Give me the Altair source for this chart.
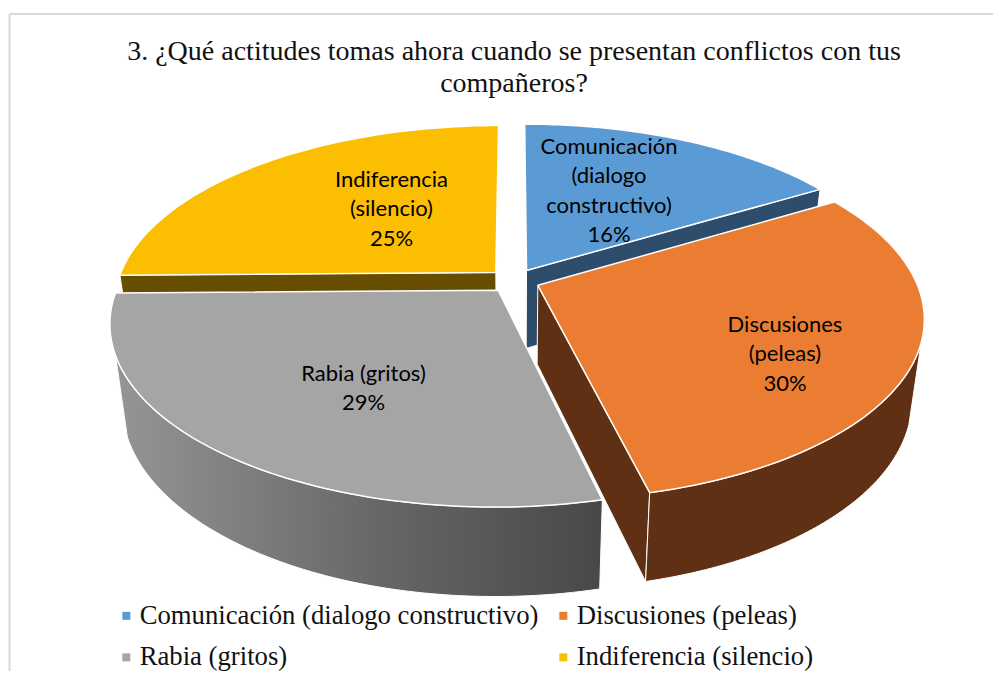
import math
import altair as alt
import pandas as pd

# ---- chart content ----
categorias = ["Comunicación (dialogo constructivo)", "Discusiones (peleas)", "Rabia (gritos)", "Indiferencia (silencio)"]
porcentajes = [16.4, 29.85, 28.5, 25.25]
colores = ["#5b9bd5", "#eb7d32", "#a5a5a5", "#fcbe00"]
titulo = ["3. ¿Qué actitudes tomas ahora cuando se presentan conflictos con tus", "compañeros?"]
etiquetas = [
    ["Comunicación", "(dialogo", "constructivo)", "16%"],
    ["Discusiones", "(peleas)", "30%"],
    ["Rabia (gritos)", "29%"],
    ["Indiferencia", "(silencio)", "25%"],
]

# ---- layout of the tilted, exploded pie ----
VX, VY, RX, RY, K = 514.0, 280.7, 378.0, 175.2, 0.175
EXPLODE, FLOOR_SCALE, DEPTH = 0.068, 0.97, 78.5
label_anchor = [(609, 147), (785, 325), (363.5, 374), (391.5, 180)]
LINE_STEP = 29.4
wall_colors = {
    0: "#2e4c6b",
    1: "#5f3013",
    3: "#664d00",
}
ORANGE_WALL_FROM, GRAY_WALL_TO = 108.0, 250.0


def project(wx, wy, floor=False):
    d = 1 + K * wy
    f = FLOOR_SCALE if floor else 1.0
    return VX + f * RX * wx / d, VY - f * RY * wy / d + (DEPTH / d if floor else 0.0)


def arc(start, end, ox, oy, floor=False, n=70):
    pts = []
    for i in range(n + 1):
        t = math.radians(start + (end - start) * i / n)
        pts.append(project(ox + math.sin(t), oy + math.cos(t), floor))
    return pts


def frame(points, name, cat=None):
    pts = points + points[:1]
    return pd.DataFrame({
        "x": [p[0] for p in pts], "y": [p[1] for p in pts],
        "ord": range(len(pts)), "poly": name, "categoria": cat,
    })


x_enc = alt.X("x:Q", axis=None, scale=alt.Scale(domain=[8, 993], nice=False, zero=False))
y_enc = alt.Y("y:Q", axis=None, scale=alt.Scale(domain=[671, 8], nice=False, zero=False))

tops, walls = [], []
acum = 0.0
for i, p in enumerate(porcentajes):
    a0, a1 = acum * 3.6, (acum + p) * 3.6
    acum += p
    mid = math.radians((a0 + a1) / 2)
    ox, oy = EXPLODE * math.sin(mid), EXPLODE * math.cos(mid)
    apex, apex_floor = project(ox, oy), project(ox, oy, True)
    rim, rim_floor = arc(a0, a1, ox, oy), arc(a0, a1, ox, oy, True)
    tops.append(frame([apex] + rim, f"top{i}", categorias[i]))
    if i == 0:  # cut face towards the viewer, at the end of the slice
        walls.append((i, frame([apex, rim[-1], rim_floor[-1], apex_floor], f"cut{i}")))
    if i == 3:
        walls.append((i, frame([apex, rim[0], rim_floor[0], apex_floor], f"cut{i}")))
    if i == 1:
        walls.append((i, frame([apex, rim[-1], rim_floor[-1], apex_floor], f"cut{i}")))
        walls.append((i, frame(arc(ORANGE_WALL_FROM, a1, ox, oy) + arc(ORANGE_WALL_FROM, a1, ox, oy, True)[::-1], f"rim{i}")))
    if i == 2:
        walls.append((i, frame(arc(a0, GRAY_WALL_TO, ox, oy) + arc(a0, GRAY_WALL_TO, ox, oy, True)[::-1], f"rim{i}")))

gray_gradient = alt.LinearGradient(
    gradient="linear", x1=1, x2=0, y1=0, y2=0,
    stops=[alt.GradientStop(offset=0, color="#484848"),
           alt.GradientStop(offset=0.45, color="#666666"),
           alt.GradientStop(offset=1, color="#959595")],
)

layers = []
# frame of the picture
borde = pd.DataFrame({"x": [9.5], "y": [14], "x2": [993], "y2": [671]})
layers.append(alt.Chart(borde).mark_rule(color="#d9d9d9", strokeWidth=2).encode(x=x_enc, x2="x2:Q", y=y_enc))
layers.append(alt.Chart(borde).mark_rule(color="#d9d9d9", strokeWidth=2).encode(x=x_enc, y=y_enc, y2="y2:Q"))

for i, df in walls:
    fill = gray_gradient if i == 2 else wall_colors[i]
    layers.append(alt.Chart(df).mark_line(fill=fill, stroke="#ffffff", strokeWidth=1).encode(
        x=x_enc, y=y_enc, order=alt.Order("ord:Q")))

layers.append(alt.Chart(pd.concat(tops, ignore_index=True)).mark_line(stroke="#ffffff", strokeWidth=1.5).encode(
    x=x_enc, y=y_enc, order=alt.Order("ord:Q"), detail="poly:N",
    fill=alt.Fill("categoria:N", sort=categorias,
                  scale=alt.Scale(domain=categorias, range=colores),
                  legend=alt.Legend(
                      title=None, orient="none", legendX=105, legendY=594, columns=2, direction="horizontal",
                      symbolType="square", symbolSize=64, symbolStrokeWidth=0,
                      labelFont="Liberation Serif", labelFontSize=26.7, labelColor="#111111",
                      labelOffset=0, rowPadding=14, columnPadding=11, labelLimit=500,
                      symbolOpacity=1))))

rows = []
for lines, (cx, cy) in zip(etiquetas, label_anchor):
    for j, line in enumerate(lines):
        rows.append({"x": cx, "y": cy + j * LINE_STEP, "t": line})
layers.append(alt.Chart(pd.DataFrame(rows)).mark_text(
    font="Lato", fontSize=22, color="#000000", align="center", baseline="middle").encode(
    x=x_enc, y=y_enc, text="t:N"))

chart = alt.layer(*layers).properties(
    width=985, height=663, padding=0,
    autosize=alt.AutoSizeParams(type="none"),
    title=alt.TitleParams(text=titulo, font="Liberation Serif", fontSize=28, fontWeight="normal",
                          color="#111111", anchor="start", align="center", dx=506, dy=94, lineHeight=32),
).configure_view(stroke=None)

chart.save("out.html", embed_options={"renderer": "svg", "actions": False})
